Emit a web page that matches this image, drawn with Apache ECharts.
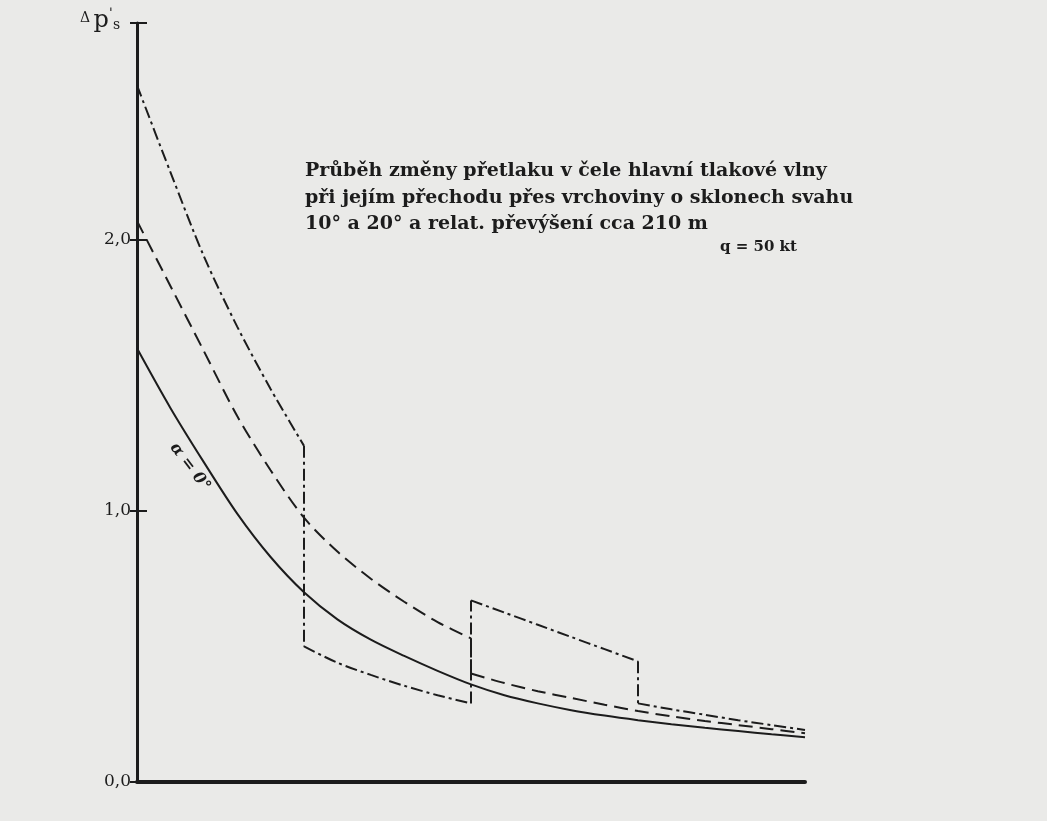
<!DOCTYPE html>
<html>
<head>
<meta charset="utf-8">
<script src="https://cdn.jsdelivr.net/npm/echarts@6/dist/echarts.min.js"></script>
<style>
html,body{margin:0;padding:0;background:#eaeae8;}
#c{width:1047px;height:821px;}
</style>
</head>
<body>
<div id="c"></div>
<script>
// ---- data ----
// x is a relative distance (no scale printed on the axis): 0 .. 10
const yTicks = [0, 1, 2];
const yTickLabels = ['0,0', '1,0', '2,0'];

// solid curve, slope alpha = 0°
const solidCurve = [[0,1.60],[0.5,1.38],[1.0,1.18],[1.5,0.99],[2.0,0.83],[2.5,0.70],[3.0,0.60],[3.5,0.525],[4.0,0.465],[4.5,0.41],[5.0,0.36],[5.5,0.32],[6.0,0.29],[6.5,0.265],[7.0,0.245],[7.5,0.228],[8.0,0.213],[8.5,0.20],[9.0,0.188],[9.5,0.176],[10,0.165]];

// dashed curve (two pieces, step down at x = 5)
const dashedA = [[0,2.07],[0.5,1.83],[1.0,1.59],[1.5,1.35],[2.0,1.15],[2.5,0.975],[3.0,0.85],[3.5,0.75],[4.0,0.665],[4.5,0.59],[5.0,0.53]];
const dashedB = [[5.0,0.40],[5.5,0.365],[6.0,0.335],[6.5,0.31],[7.0,0.285],[7.5,0.262],[8.0,0.242],[8.5,0.225],[9.0,0.21],[9.5,0.195],[10,0.18]];

// dash-dot curve (four pieces, steps at x = 2.5, 5, 7.5)
const dashDotA = [[0,2.57],[0.5,2.25],[1.0,1.94],[1.5,1.68],[2.0,1.45],[2.5,1.24]];
const dashDotB = [[2.5,0.50],[3.0,0.44],[3.5,0.395],[4.0,0.355],[4.5,0.32],[5.0,0.29]];
const dashDotC = [[5.0,0.67],[5.5,0.625],[6.0,0.58],[6.5,0.535],[7.0,0.49],[7.5,0.445]];
const dashDotD = [[7.5,0.29],[8.0,0.268],[8.5,0.248],[9.0,0.228],[9.5,0.21],[10,0.192]];

const titleLines = [
  'Průběh změny přetlaku v čele hlavní tlakové vlny',
  'při jejím přechodu přes vrchoviny o sklonech svahu',
  '10° a 20° a relat. převýšení cca 210 m'
];
const yieldLabel = 'q = 50 kt';
const curveLabel = 'α = 0°';

// ---- chart ----
const ink = '#1c1c1c';
const SOLID = 'solid';
const DASH = [14, 7];
const DASHDOT = [12, 4, 3, 4];

function piece(data, type, smooth) {
  return {
    type: 'line', data: data, showSymbol: false, symbol: 'none',
    smooth: smooth ? 0.3 : false, silent: true, animation: false,
    lineStyle: {color: ink, width: 2, type: type}, z: 3
  };
}
function steps(pieces, type) {
  const out = [];
  for (let i = 0; i + 1 < pieces.length; i++) {
    const a = pieces[i][pieces[i].length - 1];
    const b = pieces[i + 1][0];
    out.push(piece([a, b], type, false));
  }
  return out;
}

const series = [
  piece(solidCurve, SOLID, true),
  piece(dashedA, DASH, true),
  piece(dashedB, DASH, true),
  ...steps([dashedA, dashedB], DASH),
  piece(dashDotA, DASHDOT, true),
  piece(dashDotB, DASHDOT, true),
  piece(dashDotC, DASHDOT, true),
  piece(dashDotD, DASHDOT, true),
  ...steps([dashDotA, dashDotB, dashDotC, dashDotD], DASHDOT)
];

const labelFont = '"DejaVu Serif", serif';
const chart = echarts.init(document.getElementById('c'), null, {renderer: 'canvas'});
chart.setOption({
  backgroundColor: '#eaeae8',
  animation: false,
  grid: {left: 137, right: 242, top: 23, bottom: 39, containLabel: false},
  xAxis: {
    type: 'value', min: 0, max: 10,
    axisLine: {show: true, onZero: true, lineStyle: {color: ink, width: 4}},
    axisTick: {show: false}, axisLabel: {show: false}, splitLine: {show: false}
  },
  yAxis: [{
    type: 'value', min: 0, max: 2.8, interval: 1,
    axisLine: {show: true, lineStyle: {color: ink, width: 3}},
    axisTick: {show: true, length: 7, lineStyle: {color: ink, width: 2}},
    axisLabel: {
      margin: 6, color: ink, fontFamily: labelFont, fontSize: 17,
      formatter: function (v) {
        const i = yTicks.indexOf(v);
        return i >= 0 ? yTickLabels[i] : '';
      }
    },
    splitLine: {show: false}
  }, {
    type: 'value', min: 0, max: 2.8, interval: 1, position: 'left',
    axisLine: {show: false},
    axisTick: {show: true, inside: true, length: 10, lineStyle: {color: ink, width: 2}},
    axisLabel: {show: false}, splitLine: {show: false}
  }],
  series: series,
  graphic: [
    {
      type: 'text', left: 80, top: 8, z: 10,
      style: {
        text: '{d|Δ} {p|p}{s|ˈ}{b|s}',
        rich: {
          d: {fontSize: 14, fontFamily: labelFont, fill: ink, padding: [0, 0, 4, 0]},
          p: {fontSize: 24, fontFamily: labelFont, fill: ink},
          s: {fontSize: 15, fontFamily: labelFont, fill: ink, padding: [0, 0, 10, 0]},
          b: {fontSize: 14, fontFamily: labelFont, fill: ink, padding: [10, 0, 0, 0]}
        }
      }
    },
    {
      type: 'text', left: 305, top: 158, z: 10,
      style: {
        text: titleLines.join('\n'),
        fontFamily: labelFont, fontWeight: 'bold', fontSize: 19, lineHeight: 26.5, fill: ink
      }
    },
    {
      type: 'text', left: 720, top: 240, z: 10,
      style: {text: yieldLabel, fontFamily: labelFont, fontWeight: 'bold', fontSize: 15, fill: ink}
    },
    {
      type: 'text', x: 190, y: 467, rotation: -0.92, z: 10,
      style: {text: curveLabel, fontFamily: labelFont, fontStyle: 'italic', fontWeight: 'bold', fontSize: 16, fill: ink, align: 'center', verticalAlign: 'middle'}
    }
  ]
});
</script>
</body>
</html>
